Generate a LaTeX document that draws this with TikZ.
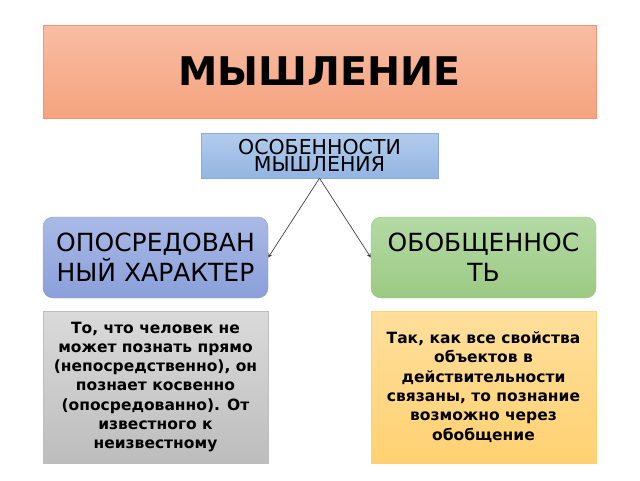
\documentclass[tikz,border=0pt]{standalone}
\usepackage{fontspec}
\setmainfont{DejaVu Sans}
\usetikzlibrary{arrows.meta}
\definecolor{titTop}{HTML}{F8BDA3}
\definecolor{titBot}{HTML}{F5A37F}
\definecolor{osTop}{HTML}{B2CCEC}
\definecolor{osBot}{HTML}{93B5E2}
\definecolor{opTop}{HTML}{AABAE6}
\definecolor{opBot}{HTML}{8A9FDA}
\definecolor{obTop}{HTML}{B5DAA5}
\definecolor{obBot}{HTML}{9BCA83}
\definecolor{grTop}{HTML}{DADADA}
\definecolor{grBot}{HTML}{BDBDBD}
\definecolor{yeTop}{HTML}{FFDF9C}
\definecolor{yeBot}{HTML}{FFD171}
\tikzset{
	box/.style={inner sep=0pt, align=center, text=black},
	opis/.style={box, font=\bfseries\fontsize{15.5}{19.3}\selectfont, minimum width=225pt, minimum height=152pt}
}
\begin{document}
\begin{tikzpicture}[x=1pt, y=-1pt]
			\useasboundingbox (0,0) rectangle (640,480);
			\node [box, draw=titBot!90!red, top color=titTop, bottom color=titBot, minimum width=553pt, minimum height=93pt, font=\bfseries\fontsize{39.5}{40}\selectfont] (titul) at (319.5,71.5) {МЫШЛЕНИЕ};
			\node [box, draw=osBot!95!black, top color=osTop, bottom color=osBot, minimum width=237pt, minimum height=45pt, font=\fontsize{20.5}{17}\selectfont] (osob) at (319.5,155.5) {ОСОБЕННОСТИ\\МЫШЛЕНИЯ};
			\node [box, rounded corners=10pt, draw=opBot, top color=opTop, bottom color=opBot, minimum width=225pt, minimum height=81pt, font=\fontsize{25}{30}\selectfont] (oposr) at (155.5,257.5) {ОПОСРЕДОВАН\\НЫЙ ХАРАКТЕР};
			\node [box, rounded corners=10pt, draw=obBot, top color=obTop, bottom color=obBot, minimum width=225pt, minimum height=81pt, font=\fontsize{25}{30}\selectfont] (obobsch) at (483.5,257.5) {ОБОБЩЕННОС\\ТЬ};
			\node [opis, draw=grBot, top color=grTop, bottom color=grBot] (serbox) at (155.5,387) {То, что человек не\\может познать прямо\\(непосредственно), он\\познает косвенно\\(опосредованно). От\\известного к\\неизвестному};
			\node [opis, draw=yeBot, top color=yeTop, bottom color=yeBot] (zheltbox) at (483.5,387) {Так, как все свойства\\объектов в\\действительности\\связаны, то познание\\возможно через\\обобщение};
			\draw [-{Stealth[length=4pt, width=4pt]}, black!75, line width=0.7pt] (osob.south) -- (oposr.east);
			\draw [-{Stealth[length=4pt, width=4pt]}, black!75, line width=0.7pt] (osob.south) -- (obobsch.west);
		\end{tikzpicture}
\end{document}
